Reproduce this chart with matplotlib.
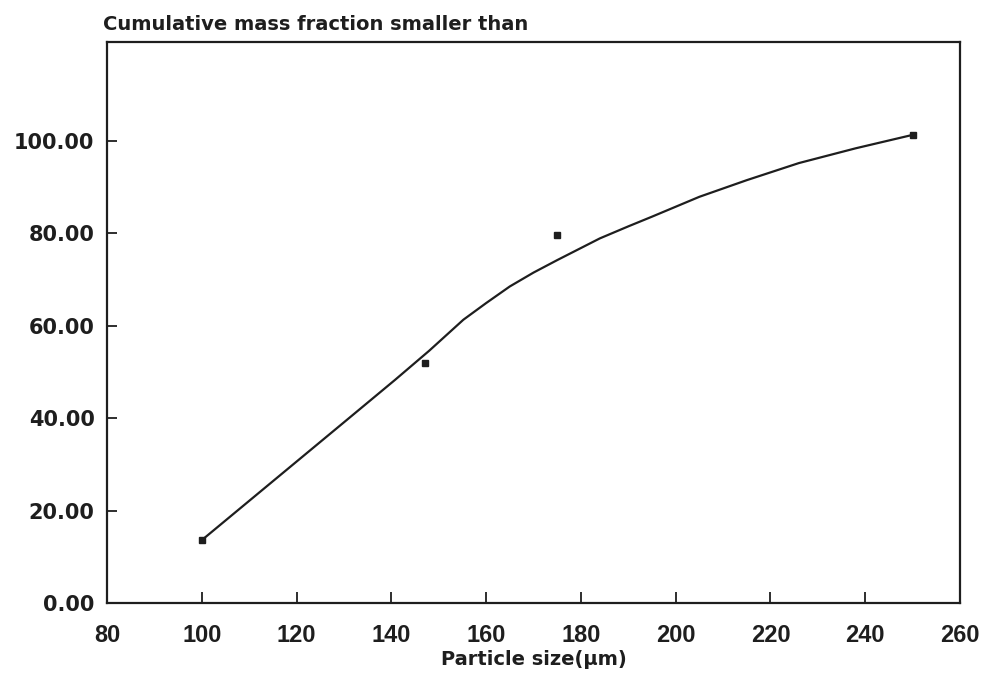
import matplotlib.pyplot as plt

# measured points (particle size in um, cumulative mass fraction %)
size_points = [100, 147, 175, 250]
frac_points = [13.6, 51.9, 79.7, 101.3]

# fitted curve
curve_x = [100, 120, 130, 140.8, 148, 155.2, 160, 165, 170, 175, 184, 190,
           195, 205, 215, 226, 238, 250]
curve_y = [13.6, 30.6, 39.1, 48.3, 54.6, 61.3, 64.9, 68.5, 71.5, 74.2, 78.9,
           81.5, 83.6, 87.9, 91.5, 95.2, 98.4, 101.3]

x_ticks = [80, 100, 120, 140, 160, 180, 200, 220, 240, 260]
y_ticks = [0, 20, 40, 60, 80, 100]

ink = "#1e1e1e"
plt.rcParams['font.family'] = ['Liberation Sans', 'DejaVu Sans']
plt.rcParams['font.weight'] = 'bold'

fig = plt.figure(figsize=(9.9, 6.74), dpi=100)
ax = fig.add_axes([107 / 990, 71 / 674, 853 / 990, 561 / 674])

ax.plot(curve_x, curve_y, color=ink, linewidth=1.6, solid_capstyle='round')
ax.plot(size_points, frac_points, linestyle='none', marker='s', markersize=4.5,
        color=ink)

ax.set_xlim(80, 260)
ax.set_ylim(0, 121.4)
ax.set_xticks(x_ticks)
ax.set_yticks(y_ticks)
ax.set_yticklabels(["%.2f" % v for v in y_ticks], family='DejaVu Sans',
                   fontweight='bold', fontsize=15)

ax.tick_params(axis='x', direction='in', length=8, width=1.3, colors=ink,
               labelsize=17, pad=15)
ax.tick_params(axis='y', direction='in', length=7, width=1.3, colors=ink,
               pad=9)
for side in ax.spines.values():
    side.set_linewidth(1.6)
    side.set_color(ink)

ax.set_xlabel("Particle size(μm)", fontsize=14, fontweight='bold', color=ink,
              family='DejaVu Sans', labelpad=2)
fig.text(103 / 990, 1 - 24 / 674, "Cumulative mass fraction smaller than",
         fontsize=14, fontweight='bold', color=ink, ha='left', va='center',
         family='DejaVu Sans')

fig.savefig("out.png", dpi=100, facecolor='white')
